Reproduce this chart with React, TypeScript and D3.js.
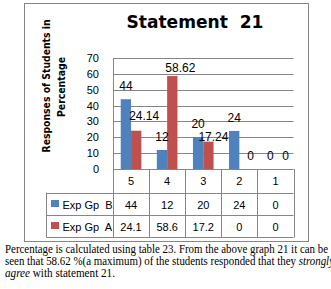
import React from "react";
import * as d3 from "d3";

const categories = ["5", "4", "3", "2", "1"];
const seriesNames = ["Exp Gp  B", "Exp Gp  A"];
const expGpB = [44, 12, 20, 24, 0];
const expGpA = [24.14, 58.62, 17.24, 0, 0];
const tableB = ["44", "12", "20", "24", "0"];
const tableA = ["24.1", "58.6", "17.2", "0", "0"];
const yTicks = [0, 10, 20, 30, 40, 50, 60, 70];

const colors = ["#4f81bd", "#c0504d"];
const grid = "#868686";

// label nudges (Excel moved some labels to avoid overlaps)
const nudgeA = [[8, -2], [8, 5], [5, 8], [6, 0], [5, 0]];

export default function App() {
  const left = 113;
  const right = 293.5;
  const y = d3.scaleLinear().domain([0, 70]).range([169, 58]);
  const x = d3.scaleBand().domain(categories).range([left, right]);
  const x1 = d3.scaleBand().domain(seriesNames).range([0, x.bandwidth()]).paddingOuter(0.75);
  const rowTops = [169, 192.5, 215, 237];
  const values = [expGpB, expGpA];
  const tables = [tableB, tableA];

  return (
    <svg width={331} height={289} style={{ position: "absolute", left: 0, top: 0 }}>
      <rect x={0} y={0} width={331} height={289} fill="#fff" />
      <rect x={24.5} y={3.5} width={284} height={238} fill="none" stroke={grid} />
      <text x={195} y={28} textAnchor="middle" fontFamily="DejaVu Sans" fontWeight="bold" fontSize={17} textLength={137} lengthAdjust="spacingAndGlyphs" style={{ whiteSpace: "pre" }}>
        Statement  21
      </text>
      <g fontFamily="DejaVu Sans" fontWeight="bold" fontSize={11}>
        <text transform="translate(50,86) rotate(-90)" textAnchor="middle" textLength={133} lengthAdjust="spacingAndGlyphs">
          Responses of Students in
        </text>
        <text transform="translate(65,87) rotate(-90)" textAnchor="middle" textLength={60} lengthAdjust="spacingAndGlyphs">
          Percentage
        </text>
      </g>
      {yTicks.map((t) => (
        <g key={t}>
          {t > 0 && <line x1={left} x2={right} y1={Math.round(y(t)) + 0.5} y2={Math.round(y(t)) + 0.5} stroke={grid} />}
          <text x={99} y={y(t) + 4} textAnchor="end" fontFamily="Liberation Sans" fontSize={11}>
            {t}
          </text>
        </g>
      ))}
      {seriesNames.map((s, si) =>
        categories.map((c, ci) => {
          const v = values[si][ci];
          const bx = (x(c) as number) + (x1(s) as number);
          return (
            <rect key={s + c} x={bx} y={y(v)} width={x1.bandwidth()} height={y(0) - y(v)} fill={colors[si]} />
          );
        })
      )}
      {seriesNames.map((s, si) =>
        categories.map((c, ci) => {
          const v = values[si][ci];
          const cx = (x(c) as number) + (x1(s) as number) + x1.bandwidth() / 2;
          const n = si === 1 ? nudgeA[ci] : [0, 0];
          return (
            <text key={"l" + s + c} x={cx + n[0]} y={y(v) - 9 + n[1]} textAnchor="middle" fontFamily="Liberation Sans" fontSize={12}>
              {v}
            </text>
          );
        })
      )}
      {/* data table */}
      <g stroke={grid} fill="none">
        <line x1={left + 0.5} x2={left + 0.5} y1={58} y2={237.5} />
        <line x1={left} x2={right} y1={169.5} y2={169.5} />
        {rowTops.slice(1).map((r) => (
          <line key={r} x1={46.5} x2={right} y1={Math.round(r) + 0.5} y2={Math.round(r) + 0.5} />
        ))}
        <line x1={46.5} x2={46.5} y1={192.5} y2={237.5} />
        {categories.map((c) => (
          <line key={c} x1={Math.round((x(c) as number) + x.bandwidth()) + 0.5} x2={Math.round((x(c) as number) + x.bandwidth()) + 0.5} y1={169} y2={237.5} />
        ))}
      </g>
      <g fontFamily="Liberation Sans" fontSize={11} textAnchor="middle">
        {categories.map((c) => (
          <text key={c} x={(x(c) as number) + x.bandwidth() / 2} y={185}>
            {c}
          </text>
        ))}
        {tables.map((row, ri) =>
          row.map((v, ci) => (
            <text key={ri + "-" + ci} x={(x(categories[ci]) as number) + x.bandwidth() / 2} y={ri === 0 ? 208.5 : 230.5}>
              {v}
            </text>
          ))
        )}
      </g>
      {seriesNames.map((s, si) => (
        <g key={s}>
          <rect x={51} y={si === 0 ? 200 : 222} width={8} height={7} fill={colors[si]} />
          <text x={62.5} y={si === 0 ? 208.5 : 230.5} fontFamily="Liberation Sans" fontSize={11} style={{ whiteSpace: "pre" }}>
            {s}
          </text>
        </g>
      ))}
      <g fontFamily="Liberation Serif" fontSize={12}>
        <text x={5} y={253} textLength={323} lengthAdjust="spacingAndGlyphs">
          Percentage is calculated using table 23. From the above graph 21 it can be
        </text>
        <text x={5} y={265} textLength={329} lengthAdjust="spacingAndGlyphs">
          seen that 58.62 %(a maximum) of the students responded that they <tspan fontStyle="italic">strongly</tspan>
        </text>
        <text x={5} y={277} textLength={110} lengthAdjust="spacingAndGlyphs">
          <tspan fontStyle="italic">agree</tspan> with statement 21.
        </text>
      </g>
    </svg>
  );
}
